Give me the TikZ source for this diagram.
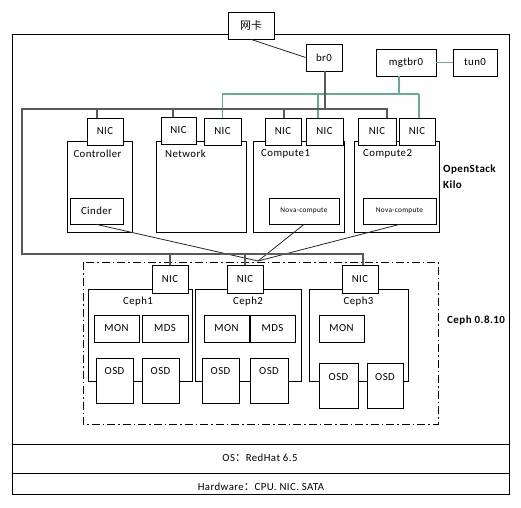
\documentclass[tikz,border=0pt]{standalone}
\usepackage{fontspec}
\setmainfont{Carlito}[LetterSpace=4]
\newfontfamily\cjk{Noto Sans CJK SC}
\definecolor{mgtgreen}{RGB}{96,172,150}
\begin{document}
\begin{tikzpicture}[x=1pt,y=-1pt,
  box/.style={draw=black,fill=white,line width=0.8pt,inner sep=0pt,font=\fontsize{10.8}{12}\selectfont},
  lbl/.style={inner sep=0pt,font=\fontsize{10.8}{12}\selectfont},
  boldlbl/.style={inner sep=0pt,anchor=west,font=\fontsize{11}{13}\selectfont\bfseries},
  small/.style={font=\fontsize{7.3}{9}\selectfont},
  net/.style={draw=black!65,line width=1.6pt},
  mgt/.style={draw=mgtgreen,line width=1.4pt},
  link/.style={draw=black!85,line width=0.8pt},
  frame/.style={draw=black,line width=0.8pt},
  dashbox/.style={draw=black,line width=0.8pt,dash pattern=on 8pt off 3pt on 1.5pt off 3pt}]
\newcommand\mybox[7][]{\node[box,minimum width={(#5)-(#3)},minimum height={(#6)-(#4)},#1] (#2) at ({((#3)+(#5))/2},{((#4)+(#6))/2}) {#7};}
\useasboundingbox (0,0) rectangle (521,507);
\fill[white] (0,0) rectangle (521,507);
% outer frame and layers
\draw[frame] (12,34) rectangle (509,494);
\draw[frame] (12,444) -- (509,444);
\draw[frame] (12,473) -- (509,473);
\node[lbl] (os) at (260,458) {OS{\cjk ：}RedHat 6.5};
\node[lbl] (hw) at (261,487) {Hardware{\cjk ：}CPU. NIC. SATA};
% top devices
\mybox{wk}{228}{12}{274}{39}{\cjk 网卡}
\mybox{br0}{306}{44}{342}{71}{br0}
\mybox{mgt}{376}{49}{436}{76}{mgtbr0}
\mybox{tun}{453}{49}{497}{76}{tun0}
\draw[link] (wk.south) -- (br0.west);
\draw[mgt] (mgt) -- (tun);
% bus coordinates
\coordinate (busTL) at (22,109);
\coordinate (busTR) at (387,109);
\coordinate (busBL) at (22,254);
\coordinate (busBR) at (363,254);
\coordinate (gL) at (222,94);
\coordinate (gR) at (419,94);
\coordinate (conv) at (258,261);
% dash-dot ceph frame
\draw[dashbox] (83,262) rectangle (438,424);
% hosts
\mybox{ctl}{67}{141}{132}{232}{}
\mybox{netw}{156}{141}{246}{232}{}
\mybox{cmp1}{253}{141}{344}{232}{}
\mybox{cmp2}{354}{141}{439}{232}{}
\mybox{cinder}{70}{198}{123}{224}{Cinder}
\mybox[small]{nova1}{269}{198}{339}{224}{Nova-compute}
\mybox[small]{nova2}{363}{198}{436}{224}{Nova-compute}
\node[lbl] (ctlT) at (97.5,154) {Controller};
\node[lbl,anchor=west] (netT) at (165,154) {Network};
\node[lbl,anchor=west] (cmp1T) at (261,154) {Compute1};
\node[lbl,anchor=west] (cmp2T) at (363,154) {Compute2};
% ceph hosts
\mybox{ceph1}{88}{289}{192}{381}{}
\mybox{ceph2}{195}{289}{301}{381}{}
\mybox{ceph3}{309}{289}{408}{381}{}
\node[lbl] (c1T) at (138,302) {Ceph1};
\node[lbl] (c2T) at (248,302) {Ceph2};
\node[lbl] (c3T) at (358.5,302) {Ceph3};
\mybox{mon1}{94}{315}{139}{342}{MON}
\mybox{mds1}{142}{315}{188}{342}{MDS}
\mybox{mon2}{204}{315}{249}{342}{MON}
\mybox{mds2}{250}{315}{295}{342}{MDS}
\mybox{mon3}{319}{315}{364}{342}{MON}
\mybox{osd1a}{96}{358}{133}{403}{}
\mybox{osd1b}{142}{358}{179}{403}{}
\mybox{osd2a}{202}{358}{239}{403}{}
\mybox{osd2b}{250}{358}{288}{403}{}
\mybox{osd3a}{319}{363}{358}{408}{}
\mybox{osd3b}{367}{363}{403}{408}{}
\foreach \o in {osd1a,osd1b,osd2a,osd2b}{\node[lbl] (\o T) at ([yshift=-13pt]\o.north) {OSD};}
\foreach \o in {osd3a,osd3b}{\node[lbl] (\o T) at ([yshift=-14pt]\o.north) {OSD};}
% storage links
\draw[link] (cinder.south) -- (conv);
\draw[link] (nova1.south) -- (conv);
\draw[link] (nova2.south) -- (conv);
% NICs
\mybox{ctlNIC}{87}{118}{123}{145}{NIC}
\mybox{netNICa}{161}{117}{196}{144}{NIC}
\mybox{netNICb}{204}{118}{241}{145}{NIC}
\mybox{c1NICa}{265}{118}{301}{145}{NIC}
\mybox{c1NICb}{306}{118}{343}{145}{NIC}
\mybox{c2NICa}{358}{118}{396}{145}{NIC}
\mybox{c2NICb}{399}{118}{435}{145}{NIC}
\mybox{ceph1NIC}{152}{265}{188}{293}{NIC}
\mybox{ceph2NIC}{227}{265}{263}{293}{NIC}
\mybox{ceph3NIC}{342}{265}{378}{293}{NIC}
% management (green) network
\draw[mgt] ([xshift=-7pt]mgt.south) |- (gL);
\draw[mgt] (gL) -- (gR);
\draw[mgt] (netNICb.north) |- (gL);
\draw[mgt] ([xshift=-6.5pt]c1NICb.north) |- (gL);
\draw[mgt] ([xshift=2pt]c2NICb.north) |- (gR);
% data (grey) bus
\draw[net] (busTR) -- (busTL) -- (busBL) -- (busBR);
\draw[net] ([xshift=1pt]br0.south) |- (busTR);
\draw[net] ([xshift=-8pt]ctlNIC.north) |- (busTL);
\draw[net] ([xshift=-5.5pt]netNICa.north) |- (busTL);
\draw[net] ([xshift=1pt]c1NICa.north) |- (busTL);
\draw[net] ([xshift=10pt]c2NICa.north) |- (busTL);
\draw[net] (ceph1NIC.north) |- (busBL);
\draw[net] (ceph2NIC.north) |- (busBL);
\draw[net] ([xshift=3pt]ceph3NIC.north) |- (busBL);
% titles
\node[boldlbl] (osk1) at (443,169) {OpenStack};
\node[boldlbl] (osk2) at (443,185) {Kilo};
\node[boldlbl] (cephT) at (447,320) {Ceph 0.8.10};
\end{tikzpicture}
\end{document}
